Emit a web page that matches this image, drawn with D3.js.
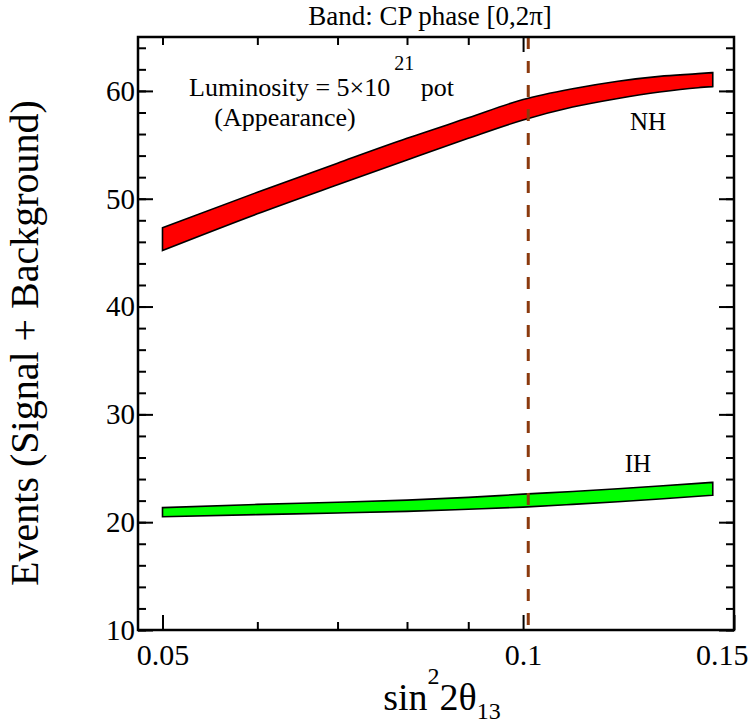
<!DOCTYPE html>
<html lang="en">
<head>
    <meta charset="UTF-8">
    <title>Events vs sin^2 2theta13</title>
    <script src="https://cdn.jsdelivr.net/npm/d3@7/dist/d3.min.js"></script>
    <style>
        body{margin: 0; background: #fff}
        .axis path{display: none}
        .axis line{stroke: #000; stroke-width: 2}
        .band{stroke: #000; stroke-width: 1.6; stroke-linejoin: miter}
    </style>
</head>
<body>
    <svg></svg>
    <script>
        // sin^2 2theta13 sample points
        var s2t = [0.05, 0.06, 0.07, 0.08, 0.09, 0.1, 0.11, 0.12, 0.13, 0.14, 0.144]
        // NH band (red): upper / lower edge
        var nhHigh = [47.3, 50.6, 53.3, 55.6, 57.5, 59.2, 60.2, 60.9, 61.35, 61.6, 61.7]
        var nhLow  = [45.2, 48.6, 51.3, 53.6, 55.6, 57.3, 58.5, 59.3, 59.9, 60.3, 60.4]
        // IH band (green): upper / lower edge
        var ihHigh = [21.35, 21.65, 21.85, 22.05, 22.3, 22.6, 22.85, 23.1, 23.35, 23.6, 23.7]
        var ihLow  = [20.5, 20.7, 20.85, 21.0, 21.2, 21.4, 21.65, 21.9, 22.15, 22.4, 22.5]

        var xMajor = [0.05, 0.1, 0.15]
        var xMinor = [0.05, 0.06, 0.07, 0.08, 0.09]
        var yMajor = [10, 20, 30, 40, 50, 60]
        var yMinor = d3.range(10, 65, 2)
        var refLine = 0.101

        var font = '"Liberation Serif", "Times New Roman", Times, serif'

        var width = 749, height = 723
        var margin = {left: 138, right: 15, top: 37, bottom: 93}
        var w = width - margin.left - margin.right
        var h = height - margin.top - margin.bottom

        var svg = d3.select('svg')
            .attr('width', width)
            .attr('height', height)

        var g = svg.append('g')
            .attr('transform', `translate(${margin.left}, ${margin.top})`)

        var x = d3.scaleLog().domain([0.0477, 0.15]).range([0, w])
        var y = d3.scaleLinear().domain([10, 65]).range([h, 0])

        // bands
        function band(hi, lo) {
            return d3.area()
                .x(d => x(d))
                .y0((d, i) => y(lo[i]))
                .y1((d, i) => y(hi[i]))
                .curve(d3.curveMonotoneX)(s2t)
        }
        g.append('path').attr('class', 'band').attr('fill', '#ff0000').attr('d', band(nhHigh, nhLow))
        g.append('path').attr('class', 'band').attr('fill', '#00ff00').attr('d', band(ihHigh, ihLow))

        // dashed reference line
        g.append('line')
            .attr('x1', x(refLine)).attr('x2', x(refLine))
            .attr('y1', 0).attr('y2', h)
            .attr('stroke', '#8b3a0e')
            .attr('stroke-width', 3)
            .attr('stroke-dasharray', '12,12')

        // axes, ticks inward on all four sides
        g.append('g').attr('class', 'axis')
            .attr('transform', `translate(0, ${h})`)
            .call(d3.axisBottom(x).tickValues(xMinor).tickSize(-8).tickFormat(''))
        g.append('g').attr('class', 'axis')
            .call(d3.axisTop(x).tickValues(xMinor).tickSize(-8).tickFormat(''))
        var xb = g.append('g').attr('class', 'axis')
            .attr('transform', `translate(0, ${h})`)
            .call(d3.axisBottom(x).tickValues(xMajor).tickSize(-15).tickPadding(14)
                .tickFormat(d => d3.format('')(d)))
        xb.selectAll('.tick').filter(d => d === 0.15).select('text')
            .attr('text-anchor', 'end').attr('dx', 14)
        g.append('g').attr('class', 'axis')
            .call(d3.axisTop(x).tickValues([0.1]).tickSize(-15).tickFormat(''))

        g.append('g').attr('class', 'axis')
            .call(d3.axisLeft(y).tickValues(yMinor).tickSize(-8).tickFormat(''))
        g.append('g').attr('class', 'axis')
            .attr('transform', `translate(${w}, 0)`)
            .call(d3.axisRight(y).tickValues(yMinor).tickSize(-8).tickFormat(''))
        var yl = g.append('g').attr('class', 'axis')
            .call(d3.axisLeft(y).tickValues(yMajor).tickSize(-15).tickPadding(3))
        g.append('g').attr('class', 'axis')
            .attr('transform', `translate(${w}, 0)`)
            .call(d3.axisRight(y).tickValues(yMajor).tickSize(-15).tickFormat(''))

        xb.attr('font-family', null).attr('font-size', null)
        yl.attr('font-family', null).attr('font-size', null)
        xb.selectAll('text').style('font-size', '30px').style('font-family', font).attr('fill', '#000')
        yl.selectAll('text').style('font-size', '29px').style('font-family', font).attr('fill', '#000')

        // frame
        g.append('rect')
            .attr('width', w).attr('height', h)
            .attr('fill', 'none').attr('stroke', '#000').attr('stroke-width', 2.5)

        function label(px, py, size, anchor) {
            return svg.append('text')
                .attr('x', px).attr('y', py)
                .attr('text-anchor', anchor || 'start')
                .style('font-family', font)
                .style('font-size', size + 'px')
        }

        // title
        label(430, 25, 27, 'middle').text('Band: CP phase [0,2\u03c0]')

        // annotation
        var ann = label(189, 96, 26)
        ann.append('tspan').text('Luminosity = 5\u00d710')
        ann.append('tspan').attr('dx', 4).attr('dy', -26).style('font-size', '20px').text('21')
        ann.append('tspan').attr('dy', 26).text(' pot')
        label(285, 126, 26, 'middle').text('(Appearance)')

        label(648, 130, 25, 'middle').text('NH')
        label(638, 472, 25, 'middle').text('IH')

        // axis titles
        label(0, 0, 40, 'middle')
            .attr('transform', `translate(38, 343) rotate(-90)`)
            .text('Events (Signal + Background)')

        var xt = label(margin.left + w / 2 + 6, 710, 38, 'middle')
        xt.append('tspan').text('sin')
        xt.append('tspan').attr('dy', -26).style('font-size', '24px').text('2')
        xt.append('tspan').attr('dy', 26).text('2\u03b8')
        xt.append('tspan').attr('dy', 9).style('font-size', '24px').text('13')
    </script>
</body>
</html>
